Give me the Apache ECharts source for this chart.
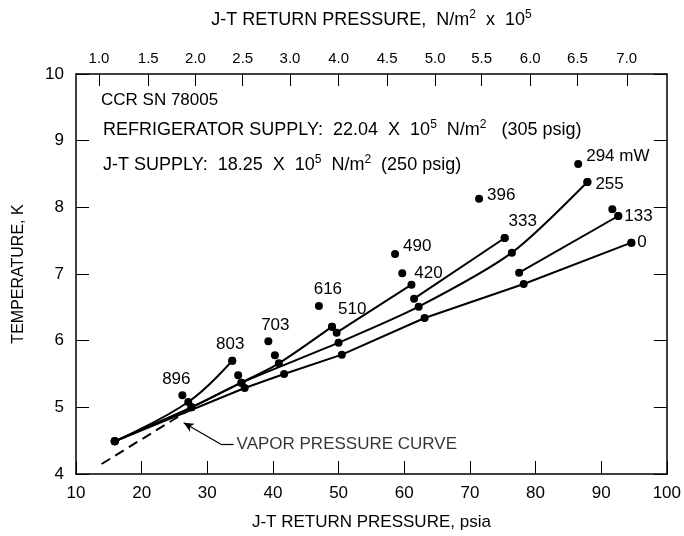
<!DOCTYPE html>
<html><head><meta charset="utf-8">
<script src="https://cdn.jsdelivr.net/npm/echarts@6/dist/echarts.min.js"></script>
<style>html,body{margin:0;padding:0;background:#fff}#c{width:684px;height:536px}</style>
</head><body><div id="c"></div>
<script>
// ---- data ----
const xMin = 10, xMax = 100, xStep = 10;
const yMin = 4, yMax = 10, yStep = 1;
// top axis: tick positions (in psia) and their printed labels (N/m^2 x 10^5)
const topTickPsia = [13.5, 21.0, 28.2, 35.4, 42.6, 50.0, 57.4, 64.7, 71.8, 79.2, 86.4, 93.9];
const topTickLabels = ['1.0','1.5','2.0','2.5','3.0','4.0','4.5','5.0','5.5','6.0','6.5','7.0'];

// curves: [psia, K]
const curve803 = [[15.9,4.49],[27.1,5.08],[33.8,5.70]];
const curve510 = [[15.9,4.49],[27.6,5.00],[35.2,5.37],[40.9,5.66],[49.0,6.21]];
const curve420 = [[49.7,6.12],[61.1,6.84]];
const curve255 = [[15.9,4.49],[27.6,5.00],[35.2,5.37],[50.0,5.97],[62.2,6.51],[76.4,7.32],[87.9,8.38]];
const curve333 = [[61.5,6.63],[75.3,7.54]];
const curve0   = [[15.9,4.49],[35.7,5.29],[41.7,5.50],[50.5,5.79],[63.1,6.34],[78.2,6.85],[94.6,7.47]];
const curve133 = [[77.5,7.02],[92.6,7.87]];
const vaporCurve = [[13.9,4.15],[26.9,4.94]];

// labelled points (heat load, mW)
const pointLabels = ['896','803','703','616','510','490','420','396','333','294 mW','255','133','0'];
const pointX = [26.2, 33.8, 39.3, 47.0, 49.0, 58.6, 59.7, 71.4, 75.3, 86.5, 87.9, 92.6, 94.6];
const pointY = [5.18, 5.70, 5.99, 6.52, 6.21, 7.30, 7.01, 8.13, 7.54, 8.65, 8.38, 7.87, 7.47];
// unlabelled loose points
const extraX = [34.7, 40.3, 91.7];
const extraY = [5.48, 5.78, 7.97];

// annotation
const vaporText = 'VAPOR PRESSURE CURVE';
const vaporTextAt = [34.0, 4.45];
const vaporArrow = [[34.0,4.45],[32.0,4.45],[26.4,4.77]];

// ---- presentation ----
const FONT = 'Liberation Sans';
const DOT = 8;
const labelPos = [
  {position:'top', offset:[-6,0]},
  {position:'top', offset:[-2,0]},
  {position:'top', offset:[7,0]},
  {position:'top', offset:[9,0]},
  {position:'right', offset:[-2,-17]},
  {position:'right', offset:[0,-8]},
  {position:'right', offset:[4,0]},
  {position:'right', offset:[0,-3]},
  {position:'top', offset:[18,0]},
  {position:'right', offset:[0,-8]},
  {position:'right', offset:[0,2]},
  {position:'right', offset:[-2,0]},
  {position:'right', offset:[-2,0]}
];

const lineBase = (data, smooth) => ({
  type:'line', data, smooth, symbol:'circle', symbolSize:DOT,
  lineStyle:{color:'#000', width:2}, itemStyle:{color:'#000', opacity:1},
  z:3, silent:true
});

const labelled = pointLabels.map((t,i)=>({
  value:[pointX[i], pointY[i]],
  label:{show:true, formatter:t, position:labelPos[i].position, offset:labelPos[i].offset,
         distance:4, color:'#000', opacity:1, fontSize:17, fontFamily:FONT}
}));
const extras = extraX.map((x,i)=>({value:[x, extraY[i]]}));

const supRich = (size) => ({
  t:{fontFamily:FONT, fontSize:size, color:'#000'},
  s:{fontFamily:FONT, fontSize:12, color:'#000', padding:[0,0,10,0]}
});

const chart = echarts.init(document.getElementById('c'));
chart.setOption({
  animation:false,
  backgroundColor:'#fff',
  grid:{left:76, right:8, top:74, bottom:60},
  xAxis:[{
    type:'value', min:xMin, max:xMax, interval:xStep, position:'bottom',
    name:'J-T RETURN PRESSURE, psia', nameLocation:'middle', nameGap:40,
    nameTextStyle:{fontFamily:FONT, fontSize:17, color:'#000'},
    axisLine:{show:true, lineStyle:{color:'#000', width:1.5}},
    axisTick:{show:true, inside:true, length:13, lineStyle:{color:'#000', width:1}},
    axisLabel:{fontFamily:FONT, fontSize:17, color:'#000', margin:11},
    splitLine:{show:false}
  },{
    type:'value', min:xMin, max:xMax, position:'top',
    name:'{t|J-T RETURN PRESSURE,  N/m}{s|2}{t|  x  10}{s|5}', nameLocation:'middle', nameGap:43,
    nameTextStyle:{color:'#000', rich:supRich(18)},
    axisLine:{show:true, lineStyle:{color:'#000', width:1.5}},
    axisTick:{show:true, inside:true, length:12, customValues:topTickPsia, lineStyle:{color:'#000', width:1}},
    axisLabel:{show:true, customValues:topTickPsia, fontFamily:FONT, fontSize:15, color:'#000', margin:8,
      formatter:(v)=>{
        let best=0; topTickPsia.forEach((p,i)=>{ if(Math.abs(p-v)<Math.abs(topTickPsia[best]-v)) best=i; });
        return topTickLabels[best];
      }},
    splitLine:{show:false}
  }],
  yAxis:[{
    type:'value', min:yMin, max:yMax, interval:yStep, position:'left',
    name:'TEMPERATURE, K', nameLocation:'middle', nameGap:49,
    nameTextStyle:{fontFamily:FONT, fontSize:16, color:'#000'},
    axisLine:{show:true, lineStyle:{color:'#000', width:1.5}},
    axisTick:{show:true, inside:true, length:13, lineStyle:{color:'#000', width:1}},
    axisLabel:{fontFamily:FONT, fontSize:17, color:'#000', margin:12},
    splitLine:{show:false}
  },{
    type:'value', min:yMin, max:yMax, interval:yStep, position:'right',
    axisLine:{show:true, lineStyle:{color:'#000', width:1.5}},
    axisTick:{show:true, inside:true, length:13, lineStyle:{color:'#000', width:1}},
    axisLabel:{show:false}, splitLine:{show:false}
  }],
  graphic:[{
    type:'text', left:101, top:92,
    style:{text:'CCR SN 78005', font:'17px '+FONT, fill:'#000'}
  },{
    type:'text', left:103, top:119,
    style:{text:'{t|REFRIGERATOR SUPPLY:  22.04  X  10}{s|5}{t|  N/m}{s|2}{t|   (305 psig)}',
      rich:supRich(18)}
  },{
    type:'text', left:103, top:154,
    style:{text:'{t|J-T SUPPLY:  18.25  X  10}{s|5}{t|  N/m}{s|2}{t|  (250 psig)}',
      rich:supRich(18)}
  }],
  series:[
    {type:'line', data:vaporCurve, symbol:'none', silent:true, z:2,
     lineStyle:{color:'#000', width:2, type:[10,6]}},
    lineBase(curve803, 0.4),
    lineBase(curve510, 0.25),
    lineBase(curve420, false),
    lineBase(curve255, 0.25),
    lineBase(curve333, false),
    lineBase(curve0, false),
    lineBase(curve133, false),
    {type:'scatter', data:labelled, symbolSize:DOT, itemStyle:{color:'#000', opacity:1}, z:4, silent:true},
    {type:'scatter', data:extras, symbolSize:DOT, itemStyle:{color:'#000', opacity:1}, z:4, silent:true},
    {type:'scatter', data:[{value:vaporTextAt}], symbolSize:0, silent:true,
     label:{show:true, formatter:vaporText, position:'right', distance:3, color:'#000', fontSize:17, fontFamily:FONT},
     markLine:{silent:true, animation:false, symbol:['none','none'], label:{show:false},
       lineStyle:{color:'#000', width:1.2, type:'solid'},
       data:[
         [{coord:vaporArrow[0], symbol:'none'},{coord:vaporArrow[1], symbol:'none'}],
         [{coord:vaporArrow[1], symbol:'none'},{coord:vaporArrow[2], symbol:'arrow', symbolSize:[7,10]}]
       ]}}
  ]
});
</script></body></html>
